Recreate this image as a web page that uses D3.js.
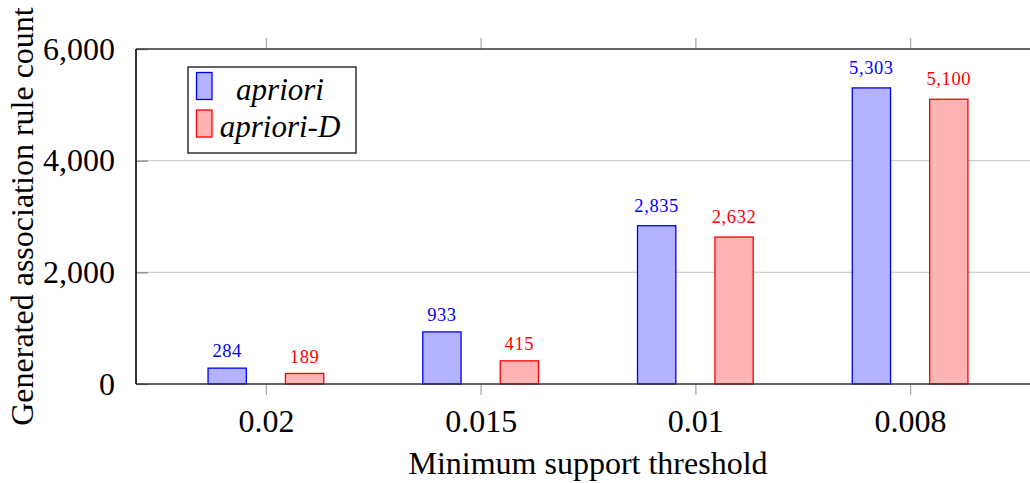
<!DOCTYPE html>
<html>
<head>
<meta charset="utf-8">
<script src="https://cdn.jsdelivr.net/npm/d3@7"></script>
</head>
<body style="margin:0">
<svg id="chart" width="1030" height="483" font-family="Liberation Serif"></svg>
<script>
// Minimum support thresholds (categories along the x axis)
const categories = ["0.02", "0.015", "0.01", "0.008"];
// Series names
const seriesNames = ["apriori", "apriori-D"];
// Generated rule counts per threshold
const aprioriValues = [284, 933, 2835, 5303];
const aprioriDValues = [189, 415, 2632, 5100];
// Y axis ticks
const yTickValues = [0, 2000, 4000, 6000];

const seriesValues = [aprioriValues, aprioriDValues];
const fills = ["#b3b3ff", "#ffb3b3"];
const strokes = ["#0000ff", "#ff0000"];
const FONT = '"Liberation Serif"';

const W = 1030;
const plotLeft = 136, plotTop = 49, plotBottom = 384, plotRight = 1040;

const svg = d3.select("#chart");

const x = d3.scalePoint().domain(categories).range([plotLeft, plotRight]).padding(0.605);
const xInner = d3.scalePoint().domain(seriesNames).range([-38.7, 38.7]);
const barW = 38.3;
const y = d3.scaleLinear().domain([0, 6000]).range([plotBottom, plotTop]);

const fmt = d3.format(",");

// horizontal grid lines
svg.append("g").selectAll("line")
  .data(yTickValues.filter(v => v > 0 && v < 6000))
  .join("line")
  .attr("x1", plotLeft).attr("x2", W)
  .attr("y1", d => y(d)).attr("y2", d => y(d))
  .attr("stroke", "#cfcfcf").attr("stroke-width", 1.2);

// y axis with short inward ticks
const yAxis = d3.axisLeft(y).tickValues(yTickValues).tickFormat(fmt).tickSize(-12).tickPadding(21);
const gy = svg.append("g").attr("transform", `translate(${plotLeft},0)`).call(yAxis)
  .attr("font-family", FONT).attr("font-size", 32);
gy.select(".domain").remove();
gy.selectAll(".tick line").attr("stroke", "#888").attr("stroke-width", 1.3);
gy.selectAll(".tick text").attr("fill", "#000").style("font-family", FONT);

// bottom x axis with outward ticks
const xAxis = d3.axisBottom(x).tickSize(11).tickPadding(14);
const gx = svg.append("g").attr("transform", `translate(0,${plotBottom})`).call(xAxis)
  .attr("font-family", FONT).attr("font-size", 32);
gx.select(".domain").remove();
gx.selectAll(".tick line").attr("stroke", "#aaa").attr("stroke-width", 1.3);
gx.selectAll(".tick text").attr("fill", "#000").style("font-family", FONT);

// top ticks
const gxTop = svg.append("g").attr("transform", `translate(0,${plotTop})`)
  .call(d3.axisTop(x).tickSize(11).tickFormat(""));
gxTop.select(".domain").remove();
gxTop.selectAll(".tick line").attr("stroke", "#aaa").attr("stroke-width", 1.3);

// bars
const groups = svg.append("g").selectAll("g")
  .data(seriesNames.map((name, i) => ({ name, i, values: seriesValues[i] })))
  .join("g");

groups.selectAll("rect")
  .data(s => s.values.map((v, j) => ({ s, v, cat: categories[j] })))
  .join("rect")
  .attr("x", d => x(d.cat) + xInner(d.s.name) - barW / 2)
  .attr("y", d => y(d.v))
  .attr("width", barW)
  .attr("height", d => y(0) - y(d.v))
  .attr("fill", d => fills[d.s.i])
  .attr("stroke", d => strokes[d.s.i])
  .attr("stroke-width", 1.3);

// value labels above bars (labels containing a comma sit a little higher)
groups.selectAll("text")
  .data(s => s.values.map((v, j) => ({ s, v, cat: categories[j] })))
  .join("text")
  .attr("x", d => x(d.cat) + xInner(d.s.name))
  .attr("y", d => y(d.v) - 10.8 - (fmt(d.v).includes(",") ? 3.4 : 0))
  .attr("text-anchor", "middle")
  .attr("fill", d => strokes[d.s.i])
  .attr("font-size", 18.5)
  .attr("letter-spacing", 0.6)
  .style("font-family", FONT)
  .text(d => fmt(d.v));

// axis frame
const frame = svg.append("g").attr("stroke", "#333").attr("stroke-width", 1.7);
frame.append("line").attr("x1", plotLeft).attr("x2", W).attr("y1", plotTop).attr("y2", plotTop);
frame.append("line").attr("x1", plotLeft).attr("x2", W).attr("y1", plotBottom).attr("y2", plotBottom);
frame.append("line").attr("x1", plotLeft).attr("x2", plotLeft).attr("y1", plotTop).attr("y2", plotBottom).attr("stroke", "#111");

// axis titles
svg.append("text")
  .attr("x", 588).attr("y", 474)
  .attr("text-anchor", "middle")
  .attr("font-size", 32)
  .style("font-family", FONT)
  .text("Minimum support threshold");

svg.append("text")
  .attr("transform", `translate(33,${(plotTop + plotBottom) / 2}) rotate(-90)`)
  .attr("text-anchor", "middle")
  .attr("font-size", 32)
  .style("font-family", FONT)
  .text("Generated association rule count");

// legend
const legend = svg.append("g");
legend.append("rect")
  .attr("x", 188).attr("y", 67).attr("width", 168).attr("height", 86)
  .attr("fill", "#fff").attr("stroke", "#333").attr("stroke-width", 1.5);
seriesNames.forEach((name, i) => {
  legend.append("rect")
    .attr("x", 196.5).attr("y", 72.5 + i * 37.5).attr("width", 15.5).attr("height", 27)
    .attr("fill", fills[i]).attr("stroke", strokes[i]).attr("stroke-width", 1.3);
  legend.append("text")
    .attr("x", 280).attr("y", 100 + i * 37)
    .attr("text-anchor", "middle")
    .attr("font-size", 31)
    .attr("font-style", "italic")
    .style("font-family", FONT)
    .text(name);
});
</script>
</body>
</html>
